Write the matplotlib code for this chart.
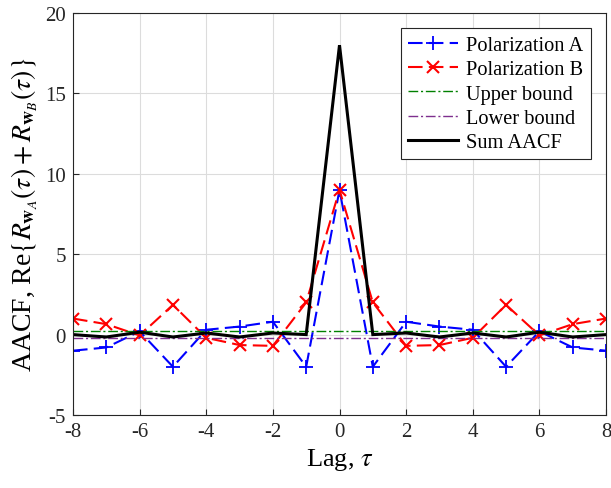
import numpy as np
import matplotlib
matplotlib.use('Agg')
import matplotlib.pyplot as plt

# lags and the two autocorrelation curves
lags = np.arange(-8, 9)
pol_a = [-1.0, -0.8, 0.2, -2.0, 0.3, 0.5, 0.8, -2.0, 9.0,
         -2.0, 0.8, 0.5, 0.3, -2.0, 0.2, -0.8, -1.0]
pol_b = [1.0, 0.65, -0.05, 1.85, -0.2, -0.65, -0.7, 2.0, 9.0,
         2.0, -0.7, -0.65, -0.2, 1.85, -0.05, 0.65, 1.0]
upper = 0.2
lower = -0.2

sum_aacf = np.array(pol_a) + np.array(pol_b)

plt.rcParams['font.family'] = ['Liberation Serif', 'DejaVu Serif']
plt.rcParams['mathtext.fontset'] = 'stix'
plt.rcParams['axes.unicode_minus'] = False

fig = plt.figure(figsize=(6.11, 4.89), dpi=100)
ax = fig.add_axes([73 / 611, 1 - 416 / 489, (606 - 73) / 611, (416 - 14) / 489])

ax.plot(lags, pol_a, '--', color='blue', marker='+', ms=10, mew=1.3, lw=1.5,
        dashes=(7, 3), label='Polarization A')
ax.plot(lags, pol_b, '--', color='red', marker='x', ms=8, mew=1.5, lw=1.5,
        dashes=(7, 3), label='Polarization B')
ax.plot(lags, np.full(len(lags), upper), '-.', color='#008000', lw=1.0,
        dashes=(7, 2, 1.5, 2), label='Upper bound')
ax.plot(lags, np.full(len(lags), lower), '-.', color='#7E2F8E', lw=1.0,
        dashes=(7, 2, 1.5, 2), label='Lower bound')
ax.plot(lags, sum_aacf, '-', color='black', lw=2.2, solid_joinstyle='miter',
        label='Sum AACF')

ax.set_xlim(-8, 8)
ax.set_ylim(-5, 20)
ax.set_xticks(np.arange(-8, 9, 2))
ax.set_yticks(np.arange(-5, 21, 5))
ax.grid(True, color='#dcdcdc', lw=0.8)
ax.set_axisbelow(True)
for s in ax.spines.values():
    s.set_color('#262626')
    s.set_linewidth(0.8)
ax.tick_params(direction='in', length=4, labelsize=15, top=False, right=False,
               colors='#262626', pad=5)
ax.set_xlabel(r'Lag, $\tau$', fontsize=19, labelpad=4)
ax.set_ylabel(r'AACF, Re$\{R_{\mathbf{w}_A}(\tau)+R_{\mathbf{w}_B}(\tau)\}$', fontsize=20,
              labelpad=4)

leg = ax.legend(loc='upper right', fontsize=14.7, fancybox=False, framealpha=1,
                edgecolor='#262626', handlelength=2.45, borderpad=0.35,
                labelspacing=0.25, handletextpad=0.4, borderaxespad=0.75)
leg.get_frame().set_linewidth(0.8)

fig.savefig('out.png', dpi=100)
